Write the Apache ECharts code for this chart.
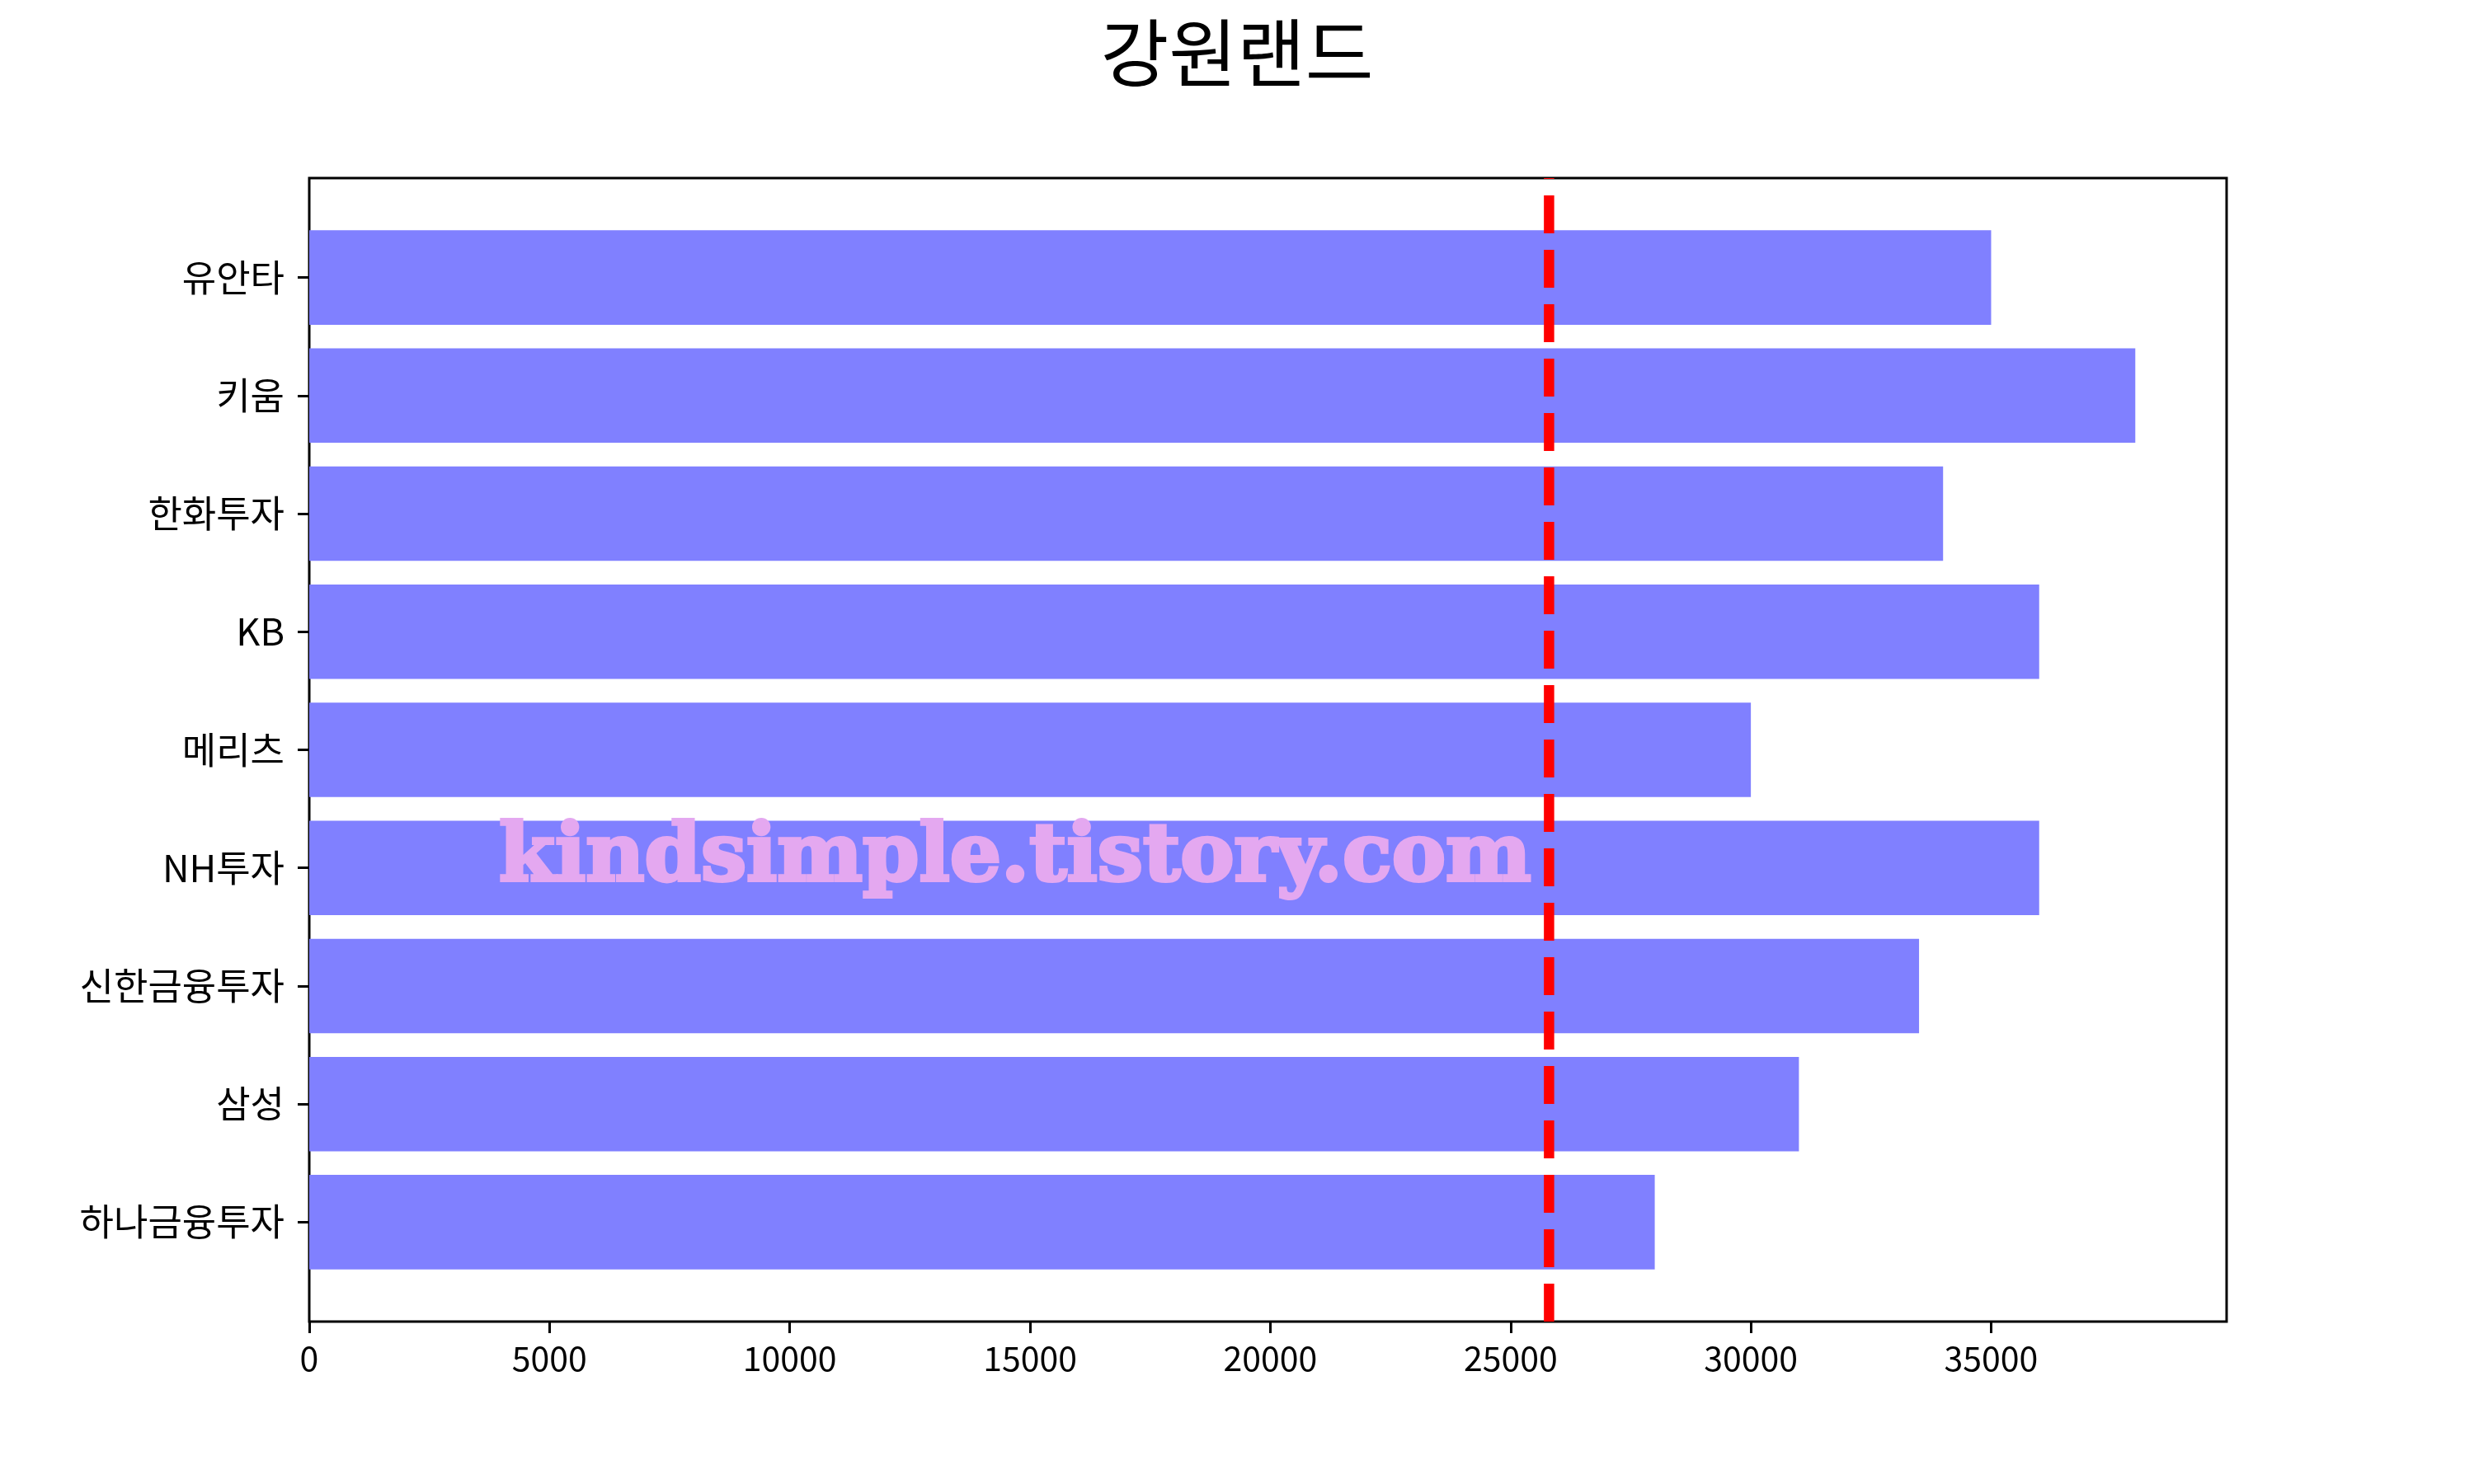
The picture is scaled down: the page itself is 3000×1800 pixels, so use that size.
<!DOCTYPE html>
<html>
<head>
<meta charset="utf-8">
<script src="https://cdn.jsdelivr.net/npm/echarts@6/dist/echarts.min.js"></script>
<style>html,body{margin:0;padding:0;background:#fff}#c{width:3000px;height:1800px}</style>
</head>
<body>
<div id="c"></div>
<script>
const titleText = '강원랜드';
const categories = ['유안타', '키움', '한화투자', 'KB', '메리츠', 'NH투자', '신한금융투자', '삼성', '하나금융투자'];
const targetPrices = [35000, 38000, 34000, 36000, 30000, 36000, 33500, 31000, 28000];
const currentPrice = 25800;
const xTicks = [0, 5000, 10000, 15000, 20000, 25000, 30000, 35000];
const xMax = 39900;
const watermark = 'kindsimple.tistory.com';

const chart = echarts.init(document.getElementById('c'), null, {renderer: 'canvas'});
const font = 'Noto Sans CJK KR';
chart.setOption({
  animation: false,
  backgroundColor: '#fff',
  title: {
    text: titleText, left: 'center', top: 14,
    textStyle: {fontFamily: font, fontSize: 90, fontWeight: 'normal', color: '#000'}
  },
  grid: [
    {left: 375, right: 300, top: 216, bottom: 197, show: true, borderColor: '#000', borderWidth: 3, backgroundColor: 'transparent', containLabel: false},
    {left: 375, right: 300, top: 265, bottom: 246, containLabel: false}
  ],
  xAxis: [
    {type: 'value', gridIndex: 0, min: 0, max: xMax, interval: 5000,
     axisLine: {show: false}, splitLine: {show: false},
     axisTick: {show: true, length: 14, inside: false, lineStyle: {color: '#000', width: 3}, customValues: xTicks},
     axisLabel: {show: true, margin: 24, color: '#000', fontFamily: font, fontSize: 41, customValues: xTicks,
       formatter: function (v) { return String(v); }}},
    {type: 'value', gridIndex: 1, min: 0, max: xMax, show: false}
  ],
  yAxis: [
    {type: 'value', gridIndex: 0, min: 0, max: 1, show: false},
    {type: 'category', gridIndex: 1, data: categories, inverse: true,
     axisLine: {show: false}, splitLine: {show: false},
     axisTick: {show: true, alignWithLabel: true, length: 14, lineStyle: {color: '#000', width: 3}},
     axisLabel: {margin: 30, color: '#000', fontFamily: font, fontSize: 45}}
  ],
  series: [
    {type: 'bar', xAxisIndex: 1, yAxisIndex: 1, data: targetPrices,
     barWidth: '80%', itemStyle: {color: '#8080ff'}, z: 2},
    {type: 'line', xAxisIndex: 0, yAxisIndex: 0, data: [[currentPrice, 0], [currentPrice, 1]],
     symbol: 'none', z: 5,
     lineStyle: {color: '#ff0000', width: 12.5, type: [46, 20], cap: 'butt'}}
  ],
  graphic: [
    {type: 'text', left: 603, top: 992, z: 4,
     style: {text: watermark, fill: '#e4a8f0', stroke: '#e4a8f0', lineWidth: 4, font: 'bold 98px "DejaVu Serif"'}}
  ]
});
</script>
</body>
</html>
